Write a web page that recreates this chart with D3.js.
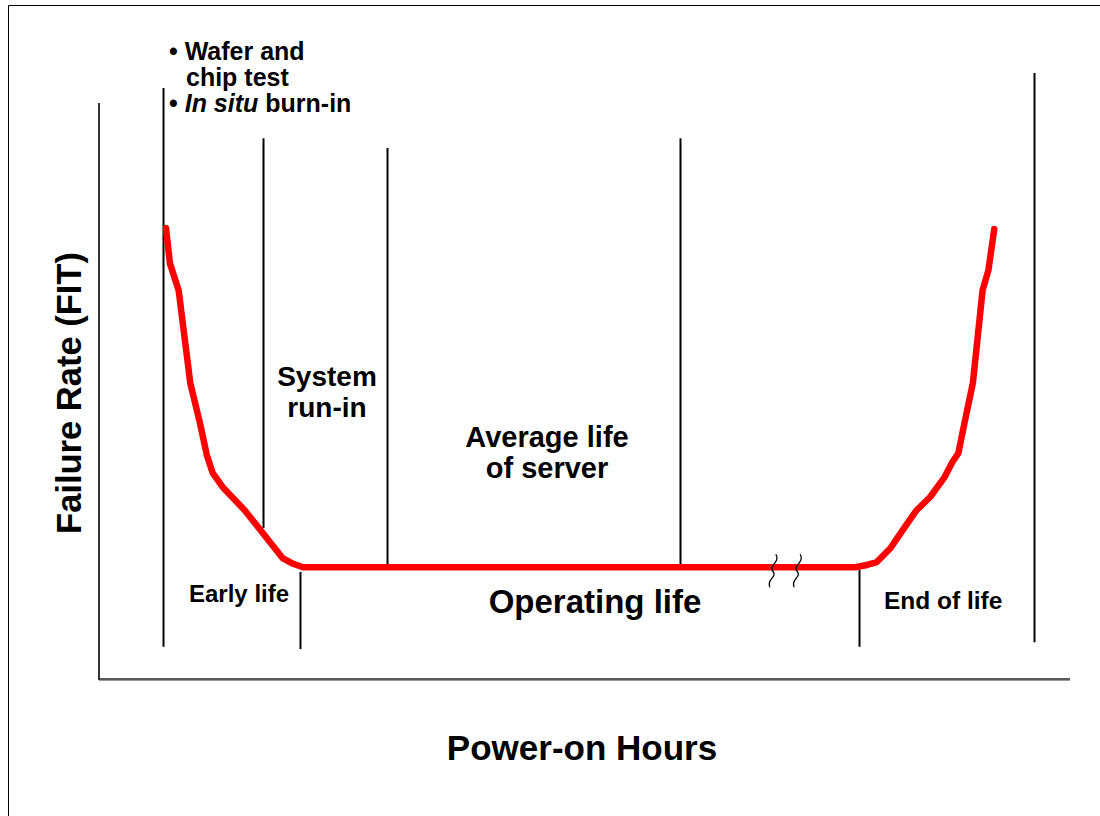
<!DOCTYPE html>
<html>
<head>
<meta charset="utf-8">
<script src="https://cdn.jsdelivr.net/npm/d3@7"></script>
<style>
  html, body { margin: 0; padding: 0; background: #fff; }
  svg { display: block; }
  text { font-family: "Liberation Sans", Arial, Helvetica, sans-serif; font-weight: bold; fill: #000; }
</style>
</head>
<body>
<svg id="chart" width="1100" height="816"></svg>
<script>
// Bathtub curve: failure rate over power-on hours (arbitrary units, 0-100)
const curveHours = [6.9, 7.3, 8.2, 9.4, 10.4, 11.1, 11.7, 12.8, 15.0, 16.6, 18.9, 20.0, 21.0,
                    77.9, 79.1, 80.1, 81.5, 83.0, 84.2, 85.6, 87.1, 87.9, 88.5, 89.2, 90.0, 91.0, 91.6, 92.2];
const curveRate  = [78.3, 72.2, 67.5, 51.4, 44.4, 38.9, 35.8, 33.2, 29.3, 25.9, 21.0, 20.0, 19.4,
                    19.4, 19.8, 20.3, 22.7, 26.4, 29.3, 31.6, 35.1, 37.7, 39.2, 45.0, 51.4, 67.5, 71.0, 78.1];

// Phase boundaries: hour position and vertical extent of each divider
const boundaryHours = [6.6, 16.9, 29.7, 59.8, 20.7, 78.3, 96.3];
const boundaryTop   = [102.6, 93.9, 92.2, 93.9, 18.6, 18.9, 105.2];
const boundaryBase  = [5.6, 26.2, 19.8, 19.8, 5.2, 5.6, 6.4];

// Axis break on the flat part of the curve
const breakHours = [69.4, 71.9];

const svg = d3.select("#chart");
const x = d3.scaleLinear().domain([0, 100]).range([99, 1070]);
const y = d3.scaleLinear().domain([0, 100]).range([679, 103]);

// Outer frame (left and top edges)
svg.append("path")
  .attr("d", "M8.5,816V5.5H1100")
  .attr("fill", "none").attr("stroke", "#000").attr("stroke-width", 1);

// Axes without ticks
svg.append("line")
  .attr("x1", x(0)).attr("x2", x(0)).attr("y1", y(100)).attr("y2", y(0) + 1)
  .attr("stroke", "#333").attr("stroke-width", 2);
svg.append("line")
  .attr("x1", x(0)).attr("x2", x(100)).attr("y1", y(0)).attr("y2", y(0))
  .attr("stroke", "#222").attr("stroke-width", 1.5);
svg.append("line")
  .attr("x1", x(0)).attr("x2", x(100)).attr("y1", y(0) + 1.5).attr("y2", y(0) + 1.5)
  .attr("stroke", "#999").attr("stroke-width", 1);

// Phase dividers
const dividers = boundaryHours.map((h, i) => ({ h, top: boundaryTop[i], base: boundaryBase[i] }));
svg.append("g").selectAll("line").data(dividers).join("line")
  .attr("x1", d => Math.round(x(d.h)) + 0.5).attr("x2", d => Math.round(x(d.h)) + 0.5)
  .attr("y1", d => y(d.top)).attr("y2", d => y(d.base))
  .attr("stroke", "#000").attr("stroke-width", 2);

// The bathtub curve
const pts = curveHours.map((h, i) => [h, curveRate[i]]);
svg.append("path")
  .datum(pts)
  .attr("d", d3.line().x(d => x(d[0])).y(d => y(d[1])).curve(d3.curveLinear))
  .attr("fill", "none").attr("stroke", "#ff0000").attr("stroke-width", 6.5)
  .attr("stroke-linejoin", "round").attr("stroke-linecap", "round");

// Break marks across the flat segment
const flatY = y(curveRate[12]);
svg.append("g").selectAll("path").data(breakHours).join("path")
  .attr("d", h => {
    const cx = x(h);
    return `M${cx + 3},${flatY - 13} C${cx + 8},${flatY - 5} ${cx - 5},${flatY - 2} ${cx},${flatY + 4}` +
           ` S${cx - 7},${flatY + 12} ${cx - 3},${flatY + 20}`;
  })
  .attr("fill", "none").attr("stroke", "#000").attr("stroke-width", 1.3);

// Annotation labels
const testNote = svg.append("text").attr("font-size", 25);
testNote.append("tspan").attr("x", 169).attr("y", 60).text("\u2022 Wafer and");
testNote.append("tspan").attr("x", 186).attr("y", 86).text("chip test");
const burnNote = svg.append("text").attr("font-size", 25).attr("x", 169).attr("y", 112);
burnNote.append("tspan").text("\u2022 ");
burnNote.append("tspan").attr("font-style", "italic").text("In situ");
burnNote.append("tspan").text(" burn-in");

svg.append("text").attr("font-size", 28).attr("text-anchor", "middle")
  .attr("x", 327).attr("y", 386).text("System");
svg.append("text").attr("font-size", 28).attr("text-anchor", "middle")
  .attr("x", 327).attr("y", 417).text("run-in");
svg.append("text").attr("font-size", 29).attr("text-anchor", "middle")
  .attr("x", 547).attr("y", 447).text("Average life");
svg.append("text").attr("font-size", 29).attr("text-anchor", "middle")
  .attr("x", 547).attr("y", 478).text("of server");

svg.append("text").attr("font-size", 24).attr("x", 189).attr("y", 602).text("Early life");
svg.append("text").attr("font-size", 33).attr("text-anchor", "middle")
  .attr("x", 595).attr("y", 613).text("Operating life");
svg.append("text").attr("font-size", 24.5).attr("x", 884).attr("y", 609).text("End of life");

// Axis titles
svg.append("text").attr("font-size", 35).attr("text-anchor", "middle")
  .attr("x", 582).attr("y", 760).text("Power-on Hours");
svg.append("text").attr("font-size", 34.5).attr("text-anchor", "middle")
  .attr("transform", "translate(81,393) rotate(-90)").text("Failure Rate (FIT)");
</script>
</body>
</html>
